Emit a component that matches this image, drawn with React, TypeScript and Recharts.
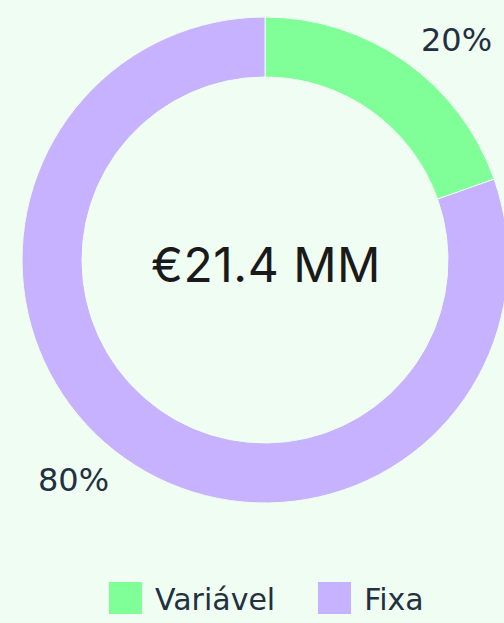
import React from 'react';
import { PieChart, Pie, Cell, Legend } from 'recharts';

const categories = ['Variável', 'Fixa'];
const shares = [19.6, 80.4];
const colors = ['#80FF99', '#C7B2FF'];
const centerLabel = '€21.4 MM';

const data = categories.map((name, i) => ({ name, value: shares[i] }));

const BG = '#F0FDF3';
const TEXT = '#22303F';
const RAD = Math.PI / 180;
const FONT = "'DejaVu Sans', sans-serif";

const renderLabel = (props: any) => {
  const { cx, cy, midAngle, outerRadius, value } = props;
  const r = outerRadius + 27;
  const x = cx + r * Math.cos(-midAngle * RAD);
  const y = cy + r * Math.sin(-midAngle * RAD);
  return (
    <text
      x={x}
      y={y}
      fill={TEXT}
      fontSize={32}
      fontFamily={FONT}
      textAnchor={x > cx ? 'start' : 'end'}
      dominantBaseline="central"
    >
      {`${Math.round(value)}%`}
    </text>
  );
};

const renderLegend = () => (
  <div style={{ display: 'flex', justifyContent: 'flex-start', gap: 43, fontFamily: FONT, paddingLeft: 109 }}>
    {categories.map((name, i) => (
      <div key={name} style={{ display: 'flex', alignItems: 'center' }}>
        <div style={{ width: 33, height: 32, background: colors[i], marginRight: 13 }} />
        <span style={{ color: TEXT, fontSize: 30, lineHeight: '32px', position: 'relative', top: 2 }}>{name}</span>
      </div>
    ))}
  </div>
);

export default function App() {
  return (
    <div style={{ position: 'absolute', left: 0, top: 0, width: 504, height: 623, background: BG, overflow: 'hidden' }}>
      <PieChart width={504} height={623} margin={{ top: 0, right: 0, bottom: 0, left: 0 }}>
        <Pie
          data={data}
          dataKey="value"
          nameKey="name"
          cx={265}
          cy={260}
          innerRadius={183}
          outerRadius={243}
          startAngle={90}
          endAngle={-270}
          stroke={BG}
          strokeWidth={1}
          label={renderLabel}
          labelLine={false}
          isAnimationActive={false}
        >
          {data.map((d, i) => (
            <Cell key={d.name} fill={colors[i]} />
          ))}
        </Pie>
        <text
          x={266}
          y={264}
          textAnchor="middle"
          dominantBaseline="central"
          fontSize={48}
          fill="#1A1A1A"
          fontFamily="Inter, sans-serif"
          letterSpacing={0.5}
        >
          {centerLabel}
        </text>
        <Legend
          content={renderLegend}
          wrapperStyle={{ position: 'absolute', left: 0, width: 504, top: 582 }}
        />
      </PieChart>
    </div>
  );
}
